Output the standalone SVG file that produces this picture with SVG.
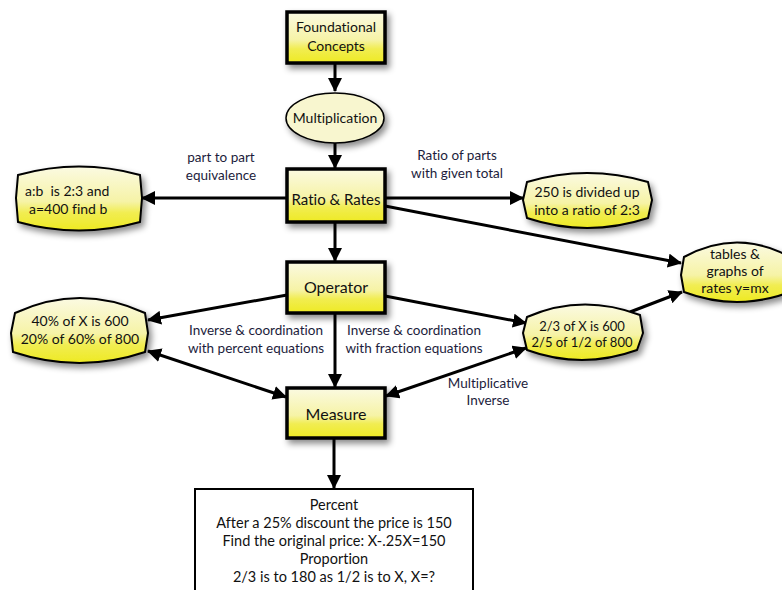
<svg xmlns="http://www.w3.org/2000/svg" width="782" height="590" viewBox="0 0 782 590">
<style>
  .box { fill: url(#yg); stroke: #000; stroke-width: 3.5; filter: url(#sh); }
  .bulge { fill: url(#yg); stroke: #000; stroke-width: 2; filter: url(#sh); }
  .ell { fill: #f8f6cf; stroke: #000; stroke-width: 1.5; filter: url(#sh); }
  .t { font-family: Lato, "Liberation Sans", sans-serif; fill: #111; text-anchor: middle; font-variant-ligatures: none; }
  .st { text-anchor: start; }
  .lbl { font-family: Lato, "Liberation Sans", sans-serif; fill: #1c1c3c; text-anchor: middle; font-size: 13.5px; font-variant-ligatures: none; }
  .c { stroke: #000; stroke-width: 3; fill: none; marker-end: url(#ah); }
  .d { marker-start: url(#ahs); }
</style>
<defs>
  <linearGradient id="yg" x1="0" y1="0" x2="0" y2="1">
    <stop offset="0" stop-color="#fbfae2"/>
    <stop offset="0.55" stop-color="#f6f3a6"/>
    <stop offset="0.72" stop-color="#f1ed52"/>
    <stop offset="1" stop-color="#eeea22"/>
  </linearGradient>
  <filter id="sh" x="-20%" y="-20%" width="150%" height="160%">
    <feDropShadow dx="3" dy="4" stdDeviation="3" flood-color="#000" flood-opacity="0.45"/>
  </filter>
  <marker id="ah" viewBox="0 0 14 14" refX="13" refY="7" markerWidth="14" markerHeight="14" markerUnits="userSpaceOnUse" orient="auto">
    <path d="M0,0 L14,7 L0,14 Z" fill="#000"/>
  </marker>
  <marker id="ahs" viewBox="0 0 14 14" refX="13" refY="7" markerWidth="14" markerHeight="14" markerUnits="userSpaceOnUse" orient="auto-start-reverse">
    <path d="M0,0 L14,7 L0,14 Z" fill="#000"/>
  </marker>
</defs>

<g id="connectors">
  <line class="c" x1="335" y1="64" x2="335" y2="91"/>
  <line class="c" x1="335" y1="143" x2="335" y2="168"/>
  <line class="c" x1="286" y1="198" x2="142" y2="198"/>
  <line class="c" x1="385" y1="198" x2="523" y2="198"/>
  <line class="c" x1="385" y1="206" x2="681" y2="263"/>
  <line class="c" x1="335" y1="223" x2="335" y2="261"/>
  <line class="c" x1="287" y1="295" x2="148" y2="320"/>
  <line class="c" x1="385" y1="296" x2="526" y2="323"/>
  <line class="c" x1="630" y1="312" x2="682" y2="292"/>
  <line class="c" x1="335" y1="314" x2="335" y2="387"/>
  <line class="c d" x1="148" y1="351" x2="286" y2="397"/>
  <line class="c d" x1="526" y1="348" x2="386" y2="396"/>
  <line class="c" x1="334" y1="439" x2="334" y2="488"/>
</g>

<g id="labels">
  <text class="lbl" x="221" y="162">part to part</text>
  <text class="lbl" x="221" y="180">equivalence</text>
  <text class="lbl" x="457" y="160">Ratio of parts</text>
  <text class="lbl" x="457" y="178">with given total</text>
  <text class="lbl" x="256" y="335">Inverse &amp; coordination</text>
  <text class="lbl" x="256" y="353">with percent equations</text>
  <text class="lbl" x="414" y="335">Inverse &amp; coordination</text>
  <text class="lbl" x="414" y="353">with fraction equations</text>
  <text class="lbl" x="488" y="388">Multiplicative</text>
  <text class="lbl" x="488" y="405">Inverse</text>
</g>

<g id="foundational">
  <rect class="box" x="287" y="12" width="98" height="51"/>
  <text class="t" x="336" y="32" font-size="14">Foundational</text>
  <text class="t" x="336" y="51" font-size="14">Concepts</text>
</g>

<g id="multiplication">
  <ellipse class="ell" cx="335" cy="118" rx="49" ry="25"/>
  <text class="t" x="335" y="123" font-size="14">Multiplication</text>
</g>

<g id="ratio">
  <rect class="box" x="287" y="169" width="98" height="53"/>
  <text class="t" x="336" y="205" font-size="15">Ratio &amp; Rates</text>
</g>

<g id="ab">
  <path class="bulge" d="M18,175 Q79,158 140,175 L142,198 L140,222 Q79,239 18,222 L16,198 Z"/>
  <text class="t st" x="25" y="196" font-size="14" xml:space="preserve">a:b  is 2:3 and</text>
  <text class="t st" x="29" y="214" font-size="14">a=400 find b</text>
</g>

<g id="divided">
  <path class="bulge" d="M527,182 Q587,164 648,182 L652,200 L648,218 Q587,238 527,218 L523,200 Z"/>
  <text class="t" x="587" y="197" font-size="14">250 is divided up</text>
  <text class="t" x="587" y="215" font-size="14">into a ratio of 2:3</text>
</g>

<g id="tables">
  <path class="bulge" d="M684,257 Q737,228 790,257 L794,275 L790,292 Q737,312 684,292 L681,275 Z"/>
  <text class="t" x="735" y="259" font-size="14">tables &amp;</text>
  <text class="t" x="735" y="276" font-size="14">graphs of</text>
  <text class="t" x="735" y="293" font-size="14">rates y=mx</text>
</g>

<g id="operator">
  <rect class="box" x="287" y="262" width="98" height="51"/>
  <text class="t" x="336" y="293" font-size="16">Operator</text>
</g>

<g id="percent40">
  <path class="bulge" d="M15,313 Q80,283 145,313 L148,333 L145,352 Q80,374 13,352 L11,333 Z"/>
  <text class="t" x="80" y="326" font-size="14">40% of X is 600</text>
  <text class="t" x="80" y="344" font-size="14">20% of 60% of 800</text>
</g>

<g id="fraction">
  <path class="bulge" d="M527,317 Q582,293 640,315 L643,333 L637,350 Q582,370 527,350 L523,333 Z"/>
  <text class="t" x="582" y="331" font-size="13">2/3 of X is 600</text>
  <text class="t" x="582" y="347" font-size="13">2/5 of 1/2 of 800</text>
</g>

<g id="measure">
  <rect class="box" x="287" y="388" width="98" height="50"/>
  <text class="t" x="336" y="420" font-size="16">Measure</text>
</g>

<g id="percentbox">
  <rect x="195" y="489" width="278" height="110" fill="#fff" stroke="#000" stroke-width="2"/>
  <text class="t" x="334" y="510" font-size="14.5">Percent</text>
  <text class="t" x="334" y="528" font-size="14.5">After a 25% discount the price is 150</text>
  <text class="t" x="334" y="546" font-size="14.5">Find the original price: X-.25X=150</text>
  <text class="t" x="334" y="564" font-size="14.5">Proportion</text>
  <text class="t" x="334" y="582" font-size="14.5">2/3 is to 180 as 1/2 is to X, X=?</text>
</g>
</svg>
